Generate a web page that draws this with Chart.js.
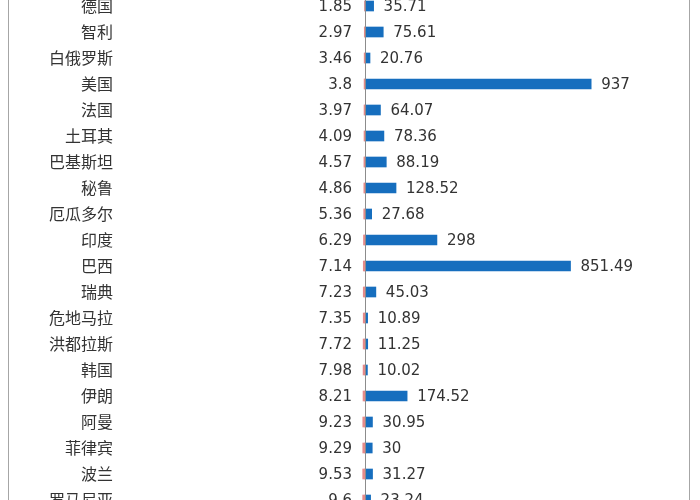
<!DOCTYPE html>
<html>
<head>
<meta charset="utf-8">
<script src="https://cdn.jsdelivr.net/npm/chart.js@4.4.1/dist/chart.umd.min.js"></script>
<style>
  html, body { margin: 0; padding: 0; background: #fff; overflow: hidden; }
  #frame { position: absolute; left: 8px; top: 0; width: 682px; height: 500px;
           border-left: 1px solid #a6a6a6; border-right: 1px solid #a6a6a6; box-sizing: border-box; }
  #wrap { position: absolute; left: 0; top: -7px; width: 700px; height: 520px; }
</style>
</head>
<body>
<div id="frame"></div>
<div id="wrap"><canvas id="c"></canvas></div>
<script>
const categories = ['德国','智利','白俄罗斯','美国','法国','土耳其','巴基斯坦','秘鲁','厄瓜多尔','印度','巴西','瑞典','危地马拉','洪都拉斯','韩国','伊朗','阿曼','菲律宾','波兰','罗马尼亚'];
const redValues = [1.85, 2.97, 3.46, 3.8, 3.97, 4.09, 4.57, 4.86, 5.36, 6.29, 7.14, 7.23, 7.35, 7.72, 7.98, 8.21, 9.23, 9.29, 9.53, 9.6];
const blueValues = [35.71, 75.61, 20.76, 937, 64.07, 78.36, 88.19, 128.52, 27.68, 298, 851.49, 45.03, 10.89, 11.25, 10.02, 174.52, 30.95, 30, 31.27, 23.24];

const RED = '#E58A8A';
const BLUE = '#166EBE';

const labelPlugin = {
  id: 'valueLabels',
  afterDatasetsDraw(chart) {
    const ctx = chart.ctx;
    const xs = chart.scales.x;
    const zero = xs.getPixelForValue(0);
    const area = chart.chartArea;
    ctx.save();
    ctx.strokeStyle = '#8c8c8c';
    ctx.lineWidth = 1;
    ctx.beginPath();
    ctx.moveTo(Math.round(zero) + 0.5, area.top);
    ctx.lineTo(Math.round(zero) + 0.5, area.bottom);
    ctx.stroke();
    ctx.font = '15px "DejaVu Sans"';
    ctx.fillStyle = '#333333';
    ctx.textBaseline = 'middle';
    chart.getDatasetMeta(0).data.forEach((el, i) => {
      ctx.textAlign = 'right';
      ctx.fillText(String(redValues[i]), zero - 13, el.y + 1);
    });
    chart.getDatasetMeta(1).data.forEach((el, i) => {
      ctx.textAlign = 'left';
      ctx.fillText(String(blueValues[i]), el.x + 10, el.y + 1);
    });
    ctx.restore();
  }
};

new Chart(document.getElementById('c'), {
  type: 'bar',
  data: {
    labels: categories,
    datasets: [
      { label: 'A', data: redValues.map(v => -v), backgroundColor: RED, barThickness: 10, stack: 's' },
      { label: 'B', data: blueValues, backgroundColor: BLUE, barThickness: 10, stack: 's' }
    ]
  },
  options: {
    indexAxis: 'y',
    responsive: true,
    maintainAspectRatio: false,
    animation: false,
    layout: { padding: { left: 0, right: 20, top: 0, bottom: 0 } },
    plugins: { legend: { display: false }, tooltip: { enabled: false } },
    scales: {
      x: { stacked: true, display: false, min: -1015, max: 1305 },
      y: {
        stacked: true,
        grid: { display: false, drawTicks: false },
        border: { display: false },
        ticks: { font: { family: '"Noto Sans CJK SC"', size: 16 }, color: '#333333', padding: 7 },
        afterFit: (s) => { s.width = 120; s.paddingTop = 0; s.paddingBottom = 0; }
      }
    }
  },
  plugins: [labelPlugin]
});
</script>
</body>
</html>
